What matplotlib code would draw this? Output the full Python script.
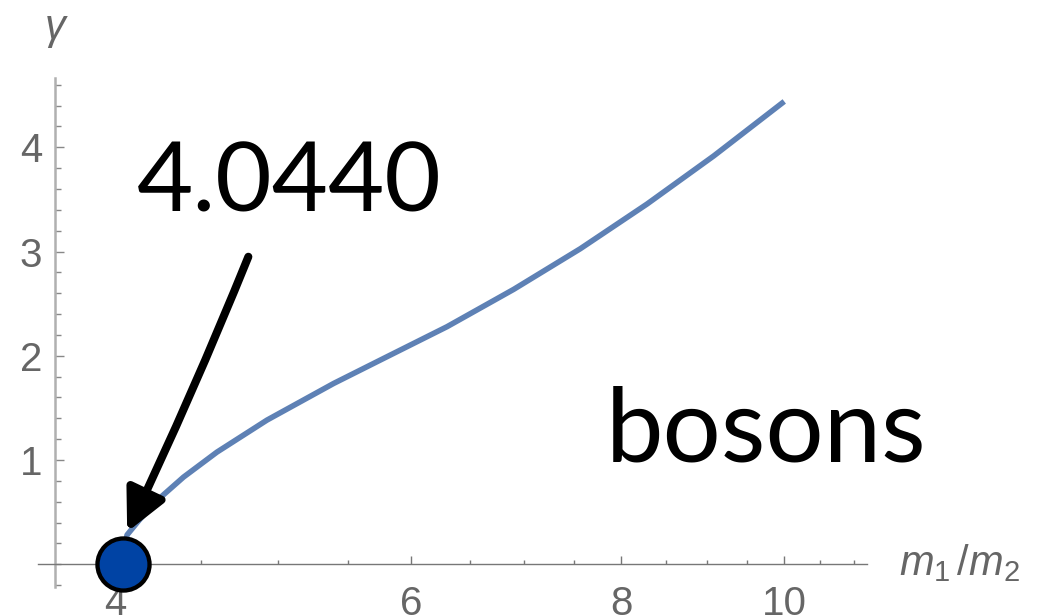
import matplotlib
matplotlib.use("Agg")
import matplotlib.pyplot as plt
from matplotlib.ticker import FixedLocator, NullFormatter, FixedFormatter

# Critical mass ratio and the boson curve gamma(m1/m2)
critical_ratio = 4.044
critical_label = "4.0440"
mass_ratio = [4.044, 4.065, 4.139, 4.235, 4.392, 4.598, 4.924, 5.394, 5.751,
              6.301, 6.903, 7.563, 8.287, 9.079, 10.0]
gamma = [0.0, 0.281, 0.435, 0.611, 0.836, 1.076, 1.383, 1.734, 1.959,
         2.279, 2.637, 3.027, 3.456, 3.917, 4.44]

x_major = [4, 6, 8, 10]
x_minor = [4.5, 5, 5.5, 6.5, 7, 7.5, 8.5, 9, 9.5, 10.5, 11]
y_major = [1, 2, 3, 4]
y_minor = [-0.2, 0, 0.2, 0.4, 0.6, 0.8, 1.2, 1.4, 1.6, 1.8, 2.2, 2.4, 2.6,
           2.8, 3.2, 3.4, 3.6, 3.8, 4.2, 4.4, 4.6]

W, H = 1038, 615
fig = plt.figure(figsize=(W / 100, H / 100), dpi=100)
ax = fig.add_axes([38.3 / W, 1 - 587.2 / H, 828.7 / W, 508.7 / H])
ax.set_xscale("log")
ax.set_xlim(3.6, 11.2)
ax.set_ylim(-0.22, 4.66)
ax.patch.set_visible(False)

for s in ("top", "right"):
    ax.spines[s].set_visible(False)
ax.spines["bottom"].set_position(("data", 0))
ax.spines["left"].set_position(("data", 3.681))
ax.spines["bottom"].set_color("#777777")
ax.spines["bottom"].set_linewidth(1.0)
ax.spines["left"].set_color("#b0b0b0")
ax.spines["left"].set_linewidth(1.8)

ax.xaxis.set_major_locator(FixedLocator(x_major))
ax.xaxis.set_major_formatter(FixedFormatter([str(v) for v in x_major]))
ax.xaxis.set_minor_locator(FixedLocator(x_minor))
ax.xaxis.set_minor_formatter(NullFormatter())
ax.yaxis.set_major_locator(FixedLocator(y_major))
ax.yaxis.set_major_formatter(FixedFormatter([str(v) for v in y_major]))
ax.yaxis.set_minor_locator(FixedLocator(y_minor))
ax.yaxis.set_minor_formatter(NullFormatter())

ax.tick_params(axis="x", which="major", direction="in", length=5.5, width=1.0,
               color="#777777", pad=15, labelcolor="#666666")
ax.tick_params(axis="x", which="minor", direction="in", length=3, width=1.0,
               color="#777777")
ax.tick_params(axis="y", which="major", direction="in", length=6.5, width=1.0,
               color="#888888", pad=9, labelcolor="#666666")
ax.tick_params(axis="y", which="minor", direction="in", length=4, width=1.0,
               color="#888888")
for lab in ax.get_xticklabels() + ax.get_yticklabels():
    lab.set_fontfamily("Liberation Sans")
    lab.set_fontsize(29)

# the curve and the critical point
ax.plot(mass_ratio, gamma, color="#5e81b5", lw=4.0, solid_capstyle="butt",
        solid_joinstyle="round", zorder=3, clip_on=False)
ax.plot([critical_ratio], [0], "o", ms=37.5, mfc="#0043a4", mec="black",
        mew=3.1, zorder=5, clip_on=False)

# arrow pointing at the critical point
ax.annotate("", xy=(4.066, 0.31), xytext=(4.80, 2.95),
            xycoords="data", textcoords="data",
            arrowprops=dict(arrowstyle="-|>,head_length=1.25,head_width=0.62",
                            mutation_scale=20, lw=5.8, color="black",
                            shrinkA=0, shrinkB=0,
                            connectionstyle="arc3,rad=-0.015"),
            zorder=6)

big_font = "Lato"
fig.text(137 / W, 1 - 212 / H, critical_label, fontsize=70, family=big_font,
         color="black", ha="left", va="baseline")
fig.text(606 / W, 1 - 462 / H, "bosons", fontsize=74, family=big_font,
         color="black", ha="left", va="baseline")

# axis labels in Mathematica style
plt.rcParams["mathtext.fontset"] = "custom"
plt.rcParams["mathtext.rm"] = "Liberation Sans"
plt.rcParams["mathtext.it"] = "Liberation Sans:italic"
fig.text(899 / W, 1 - 575 / H, r"$\mathit{m}_{1}\,/\mathit{m}_{2}$",
         fontsize=30, color="#666666", ha="left", va="baseline")
fig.text(45 / W, 1 - 39 / H, "γ", fontsize=30, family="Liberation Sans",
         style="italic", color="#666666", ha="left", va="baseline")

fig.savefig("out.png", dpi=100)
